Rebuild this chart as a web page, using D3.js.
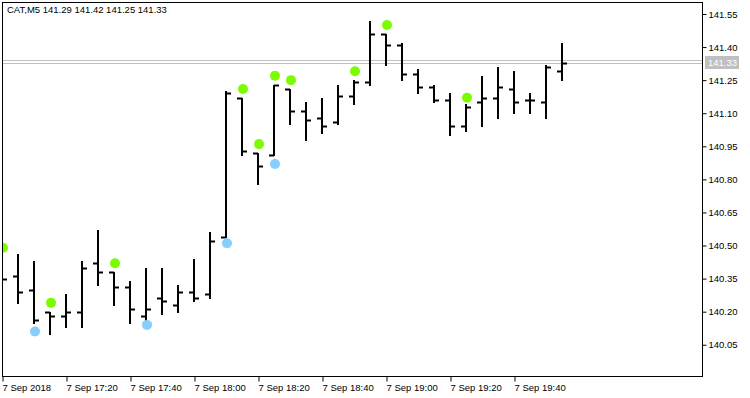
<!DOCTYPE html>
<html>
<head>
<meta charset="utf-8">
<script src="https://cdn.jsdelivr.net/npm/d3@7"></script>
<style>
  body { margin: 0; background: #fff; }
  text { font-family: "Liberation Sans", Arial, sans-serif; }
</style>
</head>
<body>
<div id="chart"></div>
<script>
// CAT, M5 bars, 7 Sep 2018 17:00 .. 19:55
var times = ["17:00","17:05","17:10","17:15","17:20","17:25","17:30","17:35","17:40","17:45","17:50","17:55",
             "18:00","18:05","18:10","18:15","18:20","18:25","18:30","18:35","18:40","18:45","18:50","18:55",
             "19:00","19:05","19:10","19:15","19:20","19:25","19:30","19:35","19:40","19:45","19:50","19:55"];
var opens  = [140.40,140.36,140.30,140.20,140.18,140.20,140.42,140.38,140.31,140.18,140.26,140.23,
              140.29,140.28,140.54,141.17,140.92,140.91,141.21,141.11,141.08,141.06,141.18,141.24,
              141.46,141.41,141.28,141.22,141.16,141.04,141.15,141.17,141.21,141.16,141.15,141.29];
var highs  = [140.45,140.46,140.43,140.20,140.28,140.43,140.57,140.38,140.34,140.40,140.40,140.32,
              140.44,140.56,141.20,141.17,140.92,141.23,141.21,141.15,141.17,141.23,141.25,141.52,
              141.46,141.42,141.30,141.23,141.19,141.14,141.27,141.31,141.29,141.19,141.32,141.42];
var lows   = [140.32,140.24,140.15,140.10,140.13,140.13,140.32,140.23,140.15,140.16,140.19,140.20,
              140.25,140.26,140.54,140.91,140.78,140.91,141.05,140.98,141.01,141.05,141.14,141.23,
              141.32,141.25,141.19,141.15,141.00,141.02,141.04,141.08,141.10,141.10,141.08,141.25];
var closes = [140.35,140.29,140.16,140.18,140.20,140.40,140.38,140.31,140.21,140.21,140.25,140.29,
              140.26,140.52,141.19,140.93,140.86,141.23,141.11,141.07,141.04,141.18,141.24,141.46,
              141.41,141.28,141.22,141.16,141.04,141.13,141.17,141.22,141.15,141.16,141.31,141.33];

// fractal dots: bar index + price
var upIdx   = [0, 3, 7, 15, 16, 17, 18, 22, 24, 29];
var upVal   = [140.49, 140.24, 140.42, 141.21, 140.96, 141.27, 141.25, 141.29, 141.50, 141.17];
var downIdx = [2, 9, 14, 17];
var downVal = [140.11, 140.14, 140.51, 140.87];

var priceTicks = [140.05, 140.20, 140.35, 140.50, 140.65, 140.80, 140.95, 141.10, 141.25, 141.40, 141.55];
var timeTickIdx = [0, 4, 8, 12, 16, 20, 24, 28, 32];
var timeTickLabels = ["7 Sep 2018", "7 Sep 17:20", "7 Sep 17:40", "7 Sep 18:00", "7 Sep 18:20",
                      "7 Sep 18:40", "7 Sep 19:00", "7 Sep 19:20", "7 Sep 19:40"];
var symbol = "CAT,M5";
var bid = 141.33, ask = 141.34;

var W = 750, H = 398;
var frame = {left: 2.5, top: 2.5, right: 702.5, bottom: 376.5};

var bars = times.map((t, i) => ({t: t, i: i, o: opens[i], h: highs[i], l: lows[i], c: closes[i]}));

var svg = d3.select("#chart").append("svg")
    .attr("width", W)
    .attr("height", H);

var x = d3.scaleLinear()
    .domain([0, 35])
    .range([2, 562]);

var y = d3.scaleLinear()
    .domain([140.05, 141.55])
    .range([344.75, 14]);

// clip region for plot (inside the frame)
svg.append("clipPath").attr("id", "plot")
    .append("rect")
    .attr("x", 3).attr("y", 3)
    .attr("width", 699).attr("height", 373);

var plot = svg.append("g").attr("clip-path", "url(#plot)");

// bid / ask lines
plot.selectAll(".pline")
    .data([ask, bid])
    .enter().append("line")
    .attr("x1", frame.left).attr("x2", frame.right)
    .attr("y1", d => Math.round(y(d)) + 0.5)
    .attr("y2", d => Math.round(y(d)) + 0.5)
    .attr("stroke", "#c0c0c0");

// OHLC bars
var g = plot.selectAll(".bar")
    .data(bars)
    .enter().append("g")
    .attr("class", "bar")
    .attr("stroke", "#000")
    .attr("stroke-width", 2);

g.append("line")
    .attr("x1", d => x(d.i)).attr("x2", d => x(d.i))
    .attr("y1", d => Math.round(y(d.h))).attr("y2", d => Math.round(y(d.l)) + 1);
g.append("line")
    .attr("x1", d => x(d.i) - 5).attr("x2", d => x(d.i))
    .attr("y1", d => Math.round(y(d.o)) + 0.5).attr("y2", d => Math.round(y(d.o)) + 0.5);
g.append("line")
    .attr("x1", d => x(d.i)).attr("x2", d => x(d.i) + 5)
    .attr("y1", d => Math.round(y(d.c)) + 0.5).attr("y2", d => Math.round(y(d.c)) + 0.5);

// fractal dots
plot.selectAll(".up")
    .data(upIdx)
    .enter().append("circle")
    .attr("cx", d => x(d) + 1)
    .attr("cy", (d, i) => y(upVal[i]))
    .attr("r", 5)
    .attr("fill", "#7cfc00");

plot.selectAll(".down")
    .data(downIdx)
    .enter().append("path")
    .attr("transform", (d, i) => "translate(" + (x(d) + 1) + "," + y(downVal[i]) + ")")
    .attr("d", d3.symbol().type(d3.symbolStar).size(38))
    .attr("fill", "#87cefa");
plot.selectAll(".down2")
    .data(downIdx)
    .enter().append("circle")
    .attr("cx", d => x(d) + 1)
    .attr("cy", (d, i) => y(downVal[i]))
    .attr("r", 5)
    .attr("fill", "#87cefa");

// frame
svg.append("rect")
    .attr("x", frame.left).attr("y", frame.top)
    .attr("width", frame.right - frame.left).attr("height", frame.bottom - frame.top)
    .attr("fill", "none")
    .attr("stroke", "#000");

// price axis
var yAxis = svg.append("g")
    .attr("transform", "translate(" + frame.right + ",0)")
    .call(d3.axisRight(y).tickValues(priceTicks).tickSize(4).tickPadding(2).tickFormat(d3.format(".2f")));
yAxis.select(".domain").remove();
yAxis.selectAll("text").style("font-size", "9.5px").attr("fill", "#000");

// current price label
var pl = svg.append("g").attr("transform", "translate(705," + y(bid) + ")");
pl.append("rect")
    .attr("x", 0).attr("y", -6.5)
    .attr("width", 34).attr("height", 13)
    .attr("fill", "#c0c0c0");
pl.append("text")
    .attr("x", 3).attr("dy", "0.35em")
    .style("font-size", "9.5px")
    .attr("fill", "#fff")
    .text(d3.format(".2f")(bid));

// time axis
var xAxis = svg.append("g")
    .attr("transform", "translate(0," + frame.bottom + ")")
    .call(d3.axisBottom(x).tickValues(timeTickIdx).tickSize(5).tickPadding(3)
        .tickFormat((d, i) => timeTickLabels[i]));
xAxis.select(".domain").remove();
xAxis.selectAll(".tick line").attr("transform", "translate(0.5,0)");
xAxis.selectAll("text")
    .style("text-anchor", "start")
    .style("font-size", "9.5px")
    .attr("fill", "#000");

// header
svg.append("text")
    .attr("x", 7).attr("y", 13)
    .style("font-size", "9.5px")
    .text(symbol + "  " + [opens[35], highs[35], lows[35], closes[35]].map(d3.format(".2f")).join(" "));
</script>
</body>
</html>
